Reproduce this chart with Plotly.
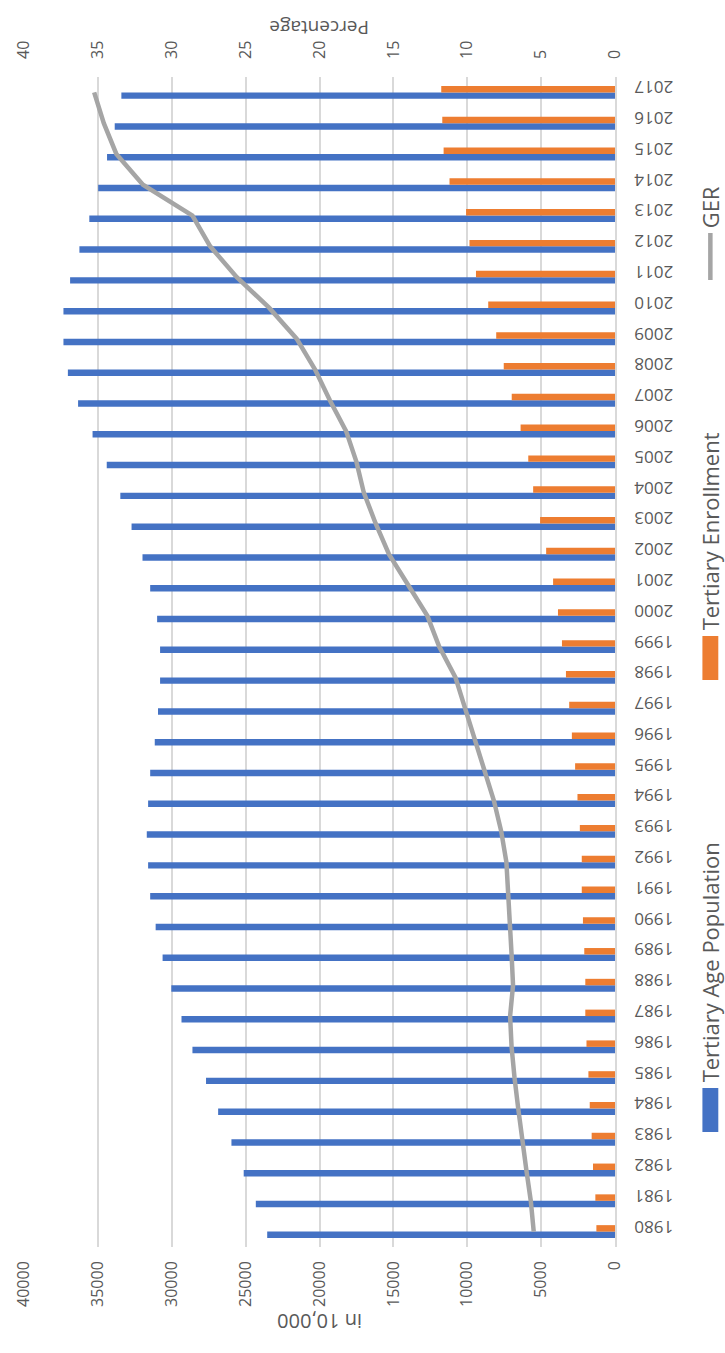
import plotly.graph_objects as go

# Tertiary education in China, 1980-2017
years = list(range(1980, 2018))

# Tertiary age population (in 10,000)
population = [23540, 24310, 25130, 25960, 26860, 27680, 28600, 29340, 30030, 30620,
              31090, 31460, 31600, 31690, 31600, 31460, 31150, 30930, 30790, 30790,
              30990, 31460, 31980, 32720, 33480, 34400, 35360, 36340, 37030, 37330,
              37330, 36880, 36250, 35580, 34980, 34380, 33860, 33410]

# Tertiary enrollment (in 10,000)
enrollment = [1260, 1330, 1490, 1580, 1710, 1800, 1930, 2010, 2010, 2080,
              2170, 2250, 2250, 2380, 2540, 2700, 2920, 3100, 3320, 3590,
              3860, 4190, 4660, 5070, 5540, 5870, 6390, 6990, 7530, 8040,
              8580, 9410, 9850, 10080, 11200, 11600, 11690, 11760]

# Gross enrollment ratio (%)
ger = [5.5, 5.7, 6.0, 6.3, 6.55, 6.8, 7.0, 7.1, 6.9, 7.0,
       7.1, 7.2, 7.35, 7.7, 8.2, 8.85, 9.5, 10.1, 10.8, 11.9,
       12.7, 14.0, 15.3, 16.2, 17.0, 17.5, 18.2, 19.3, 20.3, 21.55,
       23.4, 25.6, 27.4, 28.6, 31.95, 33.75, 34.6, 35.25]

series_names = ["Tertiary Age Population", "Tertiary Enrollment", "GER"]
colors = ["#4472C4", "#ED7D31", "#A5A5A5"]
text_color = "#595959"
grid_color = "#D9D9D9"
font_family = "Open Sans"

W, H = 725, 1353
M_L, M_R, M_T, M_B = 20, 110, 77, 106
plot_w = W - M_L - M_R
plot_h = H - M_T - M_B


def px_x(px):
    return (px - M_L) / plot_w


def px_y(py):
    return (H - M_B - py) / plot_h


fig = go.Figure()
fig.add_trace(go.Bar(y=years, x=population, orientation="h", name=series_names[0],
                     marker=dict(color=colors[0], line=dict(width=0)), xaxis="x", yaxis="y"))
fig.add_trace(go.Bar(y=years, x=enrollment, orientation="h", name=series_names[1],
                     marker=dict(color=colors[1], line=dict(width=0)), xaxis="x", yaxis="y"))
fig.add_trace(go.Scatter(y=years, x=ger, mode="lines", name=series_names[2],
                         line=dict(color=colors[2], width=4.5), xaxis="x2", yaxis="y"))

tick_font = dict(family=font_family, size=16, color=text_color)

fig.update_layout(
    width=W, height=H,
    margin=dict(l=M_L, r=M_R, t=M_T, b=M_B),
    paper_bgcolor="white", plot_bgcolor="white",
    barmode="group", bargap=0.58, bargroupgap=0,
    showlegend=False,
    font=dict(family=font_family, color=text_color),
    xaxis=dict(range=[40000, 0], tickvals=list(range(0, 40001, 5000)), tickformat="d",
               tickangle=-90, tickfont=tick_font, showgrid=True,
               gridcolor=grid_color, gridwidth=1.5, zeroline=False,
               showline=False, ticks="", ticklabelstandoff=10),
    xaxis2=dict(range=[40, 0], tickvals=list(range(0, 41, 5)), overlaying="x",
                side="top", tickangle=-90, tickfont=tick_font, showgrid=False,
                zeroline=False, showline=False, ticks="", ticklabelstandoff=17),
    yaxis=dict(range=[1979.5, 2017.5], tickvals=years, side="right",
               tickangle=180, tickfont=dict(family=font_family, size=17, color=text_color),
               showgrid=False, zeroline=False, showline=True,
               linecolor=grid_color, linewidth=1.5, ticks="", ticklabelstandoff=53),
)

# Axis titles
fig.add_annotation(text="Percentage", xref="paper", yref="paper",
                   x=0.5, y=px_y(13), textangle=180, showarrow=False,
                   font=dict(family=font_family, size=19, color=text_color))
fig.add_annotation(text="in 10,000", xref="paper", yref="paper",
                   x=0.5, y=px_y(1337), textangle=180, showarrow=False,
                   font=dict(family=font_family, size=20, color=text_color))

# Legend, running up the right-hand side
leg_x = 711
leg_font = dict(family=font_family, size=22, color=text_color)

fig.add_shape(type="rect", xref="paper", yref="paper",
              x0=px_x(703), x1=px_x(719), y0=px_y(1132), y1=px_y(1088),
              fillcolor=colors[0], line=dict(width=0))
fig.add_annotation(text=series_names[0], xref="paper", yref="paper",
                   x=px_x(leg_x), y=px_y(1084), xanchor="center", yanchor="bottom",
                   textangle=-90, showarrow=False, font=leg_font)

fig.add_shape(type="rect", xref="paper", yref="paper",
              x0=px_x(703), x1=px_x(719), y0=px_y(680), y1=px_y(636),
              fillcolor=colors[1], line=dict(width=0))
fig.add_annotation(text=series_names[1], xref="paper", yref="paper",
                   x=px_x(leg_x), y=px_y(632), xanchor="center", yanchor="bottom",
                   textangle=-90, showarrow=False, font=leg_font)

fig.add_shape(type="line", xref="paper", yref="paper",
              x0=px_x(leg_x), x1=px_x(leg_x), y0=px_y(280), y1=px_y(233),
              line=dict(color=colors[2], width=4.5))
fig.add_annotation(text=series_names[2], xref="paper", yref="paper",
                   x=px_x(leg_x), y=px_y(230), xanchor="center", yanchor="bottom",
                   textangle=-90, showarrow=False, font=leg_font)

fig.write_html("out.html")
